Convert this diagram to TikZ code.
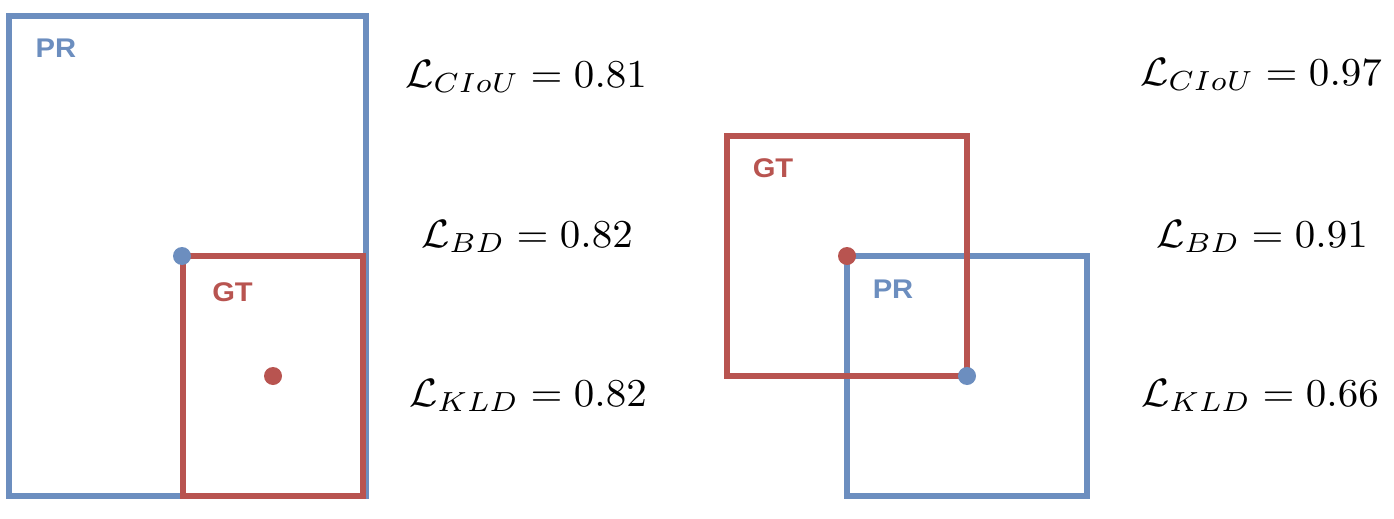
\documentclass[tikz,border=0pt]{standalone}
\usepackage{fontspec}
\newfontfamily\labelfont{Liberation Sans}
\definecolor{prblue}{HTML}{6C8EBF}
\definecolor{gtred}{HTML}{B85450}
\tikzset{
  boxline/.style={line width=6pt},
  dotmark/.style={circle, inner sep=0pt, minimum size=18pt},
  lbl/.style={anchor=base, inner sep=0pt, font=\labelfont\bfseries\fontsize{27}{30}\selectfont, xscale=1.08},
  formula/.style={anchor=base, inner sep=0pt}
}
\newcommand{\fml}[1]{\scalebox{4.1}[3.95]{$#1$}}
\begin{document}
\begin{tikzpicture}[x=1pt, y=-1pt]
\useasboundingbox (0,0) rectangle (1394,519);
% left pair
\draw[boxline, prblue] (9,16) rectangle (366,496);
\draw[boxline, gtred] (183,256) rectangle (363,496);
\node[dotmark, fill=prblue] (pl) at (182,256) {};
\node[dotmark, fill=gtred] (gl) at (273,376) {};
\node[lbl, text=prblue] (prl) at (56,58) {PR};
\node[lbl, text=gtred] (gtl) at (232.5,301) {GT};
% right pair
\draw[boxline, prblue] (847,256) rectangle (1087,496);
\draw[boxline, gtred] (727,136) rectangle (967,376);
\node[dotmark, fill=gtred] (gr) at (847,256) {};
\node[dotmark, fill=prblue] (pr) at (967,376) {};
\node[lbl, text=gtred] (gtr) at (773,177) {GT};
\node[lbl, text=prblue] (prr) at (893,298) {PR};
% formulas
\node[formula] (f1) at (526,87) {\fml{\mathcal{L}_{CIoU}=0.81}};
\node[formula] (f2) at (527,247) {\fml{\mathcal{L}_{BD}=0.82}};
\node[formula] (f3) at (528,406) {\fml{\mathcal{L}_{KLD}=0.82}};
\node[formula] (f4) at (1261,85) {\fml{\mathcal{L}_{CIoU}=0.97}};
\node[formula] (f5) at (1262,247) {\fml{\mathcal{L}_{BD}=0.91}};
\node[formula] (f6) at (1260,406) {\fml{\mathcal{L}_{KLD}=0.66}};
\end{tikzpicture}
\end{document}
